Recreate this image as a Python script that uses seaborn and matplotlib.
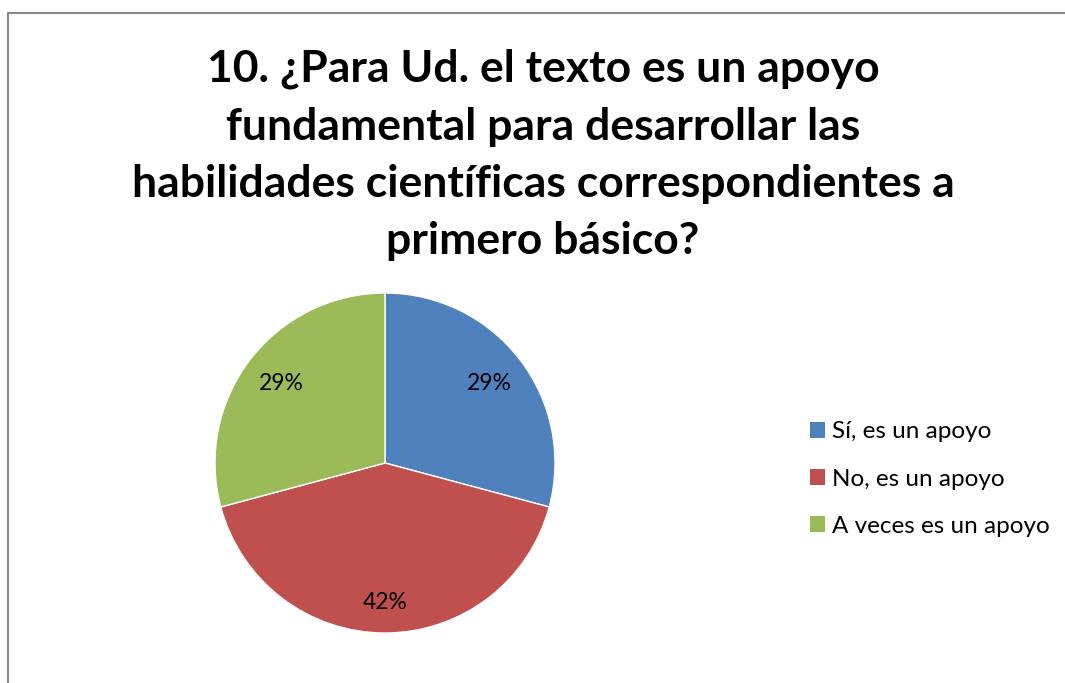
import matplotlib.pyplot as plt
import seaborn as sns
from matplotlib.lines import Line2D
from matplotlib.patches import Patch

# Data
categories = ['Sí, es un apoyo', 'No, es un apoyo', 'A veces es un apoyo']
counts = [7, 10, 7]
colors = ['#4F81BD', '#C0504D', '#9BBB59']
title = ('10. ¿Para Ud. el texto es un apoyo\n'
         'fundamental para desarrollar las\n'
         'habilidades científicas correspondientes a\n'
         'primero básico?')

sns.set_theme(style='white')
plt.rcParams['font.family'] = ['Lato', 'DejaVu Sans']

W, H = 1065, 683
fig = plt.figure(figsize=(W / 100, H / 100), dpi=100)

# Pie area: center (385, 463), radius 170 px
ax = fig.add_axes([(385 - 170) / W, (H - 633) / H, 340 / W, 340 / H])
wedges, texts, autotexts = ax.pie(
    counts, colors=colors, startangle=90, counterclock=False,
    autopct='%.0f%%', pctdistance=0.77, radius=1.0,
    textprops={'fontsize': 16.5, 'color': 'black'})
# the larger slice's label sits a little further out
x, y = autotexts[1].get_position()
autotexts[1].set_position((x * 0.82 / 0.77, y * 0.82 / 0.77))
ax.set_xlim(-1, 1)
ax.set_ylim(-1, 1)
ax.set_aspect('equal')

# Title
fig.text(543 / W, 1 - 155 / H, title, ha='center', va='center', color='black',
         fontsize=32, fontweight='bold', linespacing=1.53)

# Legend
handles = [Patch(facecolor=c, edgecolor='none') for c in colors]
fig.legend(handles, categories, loc='center left',
           bbox_to_anchor=(810 / W, 1 - 479 / H), frameon=False,
           borderaxespad=0, borderpad=0,
           fontsize=17.5, handlelength=0.62, handleheight=0.62,
           handletextpad=0.3, labelspacing=1.08, labelcolor='black')

# Chart border (gray lines on left and top)
fig.add_artist(Line2D([8 / W, 8 / W], [0, 1 - 13 / H], color='#888888', lw=1.5,
                      transform=fig.transFigure))
fig.add_artist(Line2D([8 / W, 1], [1 - 13 / H, 1 - 13 / H], color='#888888', lw=1.5,
                      transform=fig.transFigure))

fig.savefig('out.png', dpi=100, facecolor='white')
